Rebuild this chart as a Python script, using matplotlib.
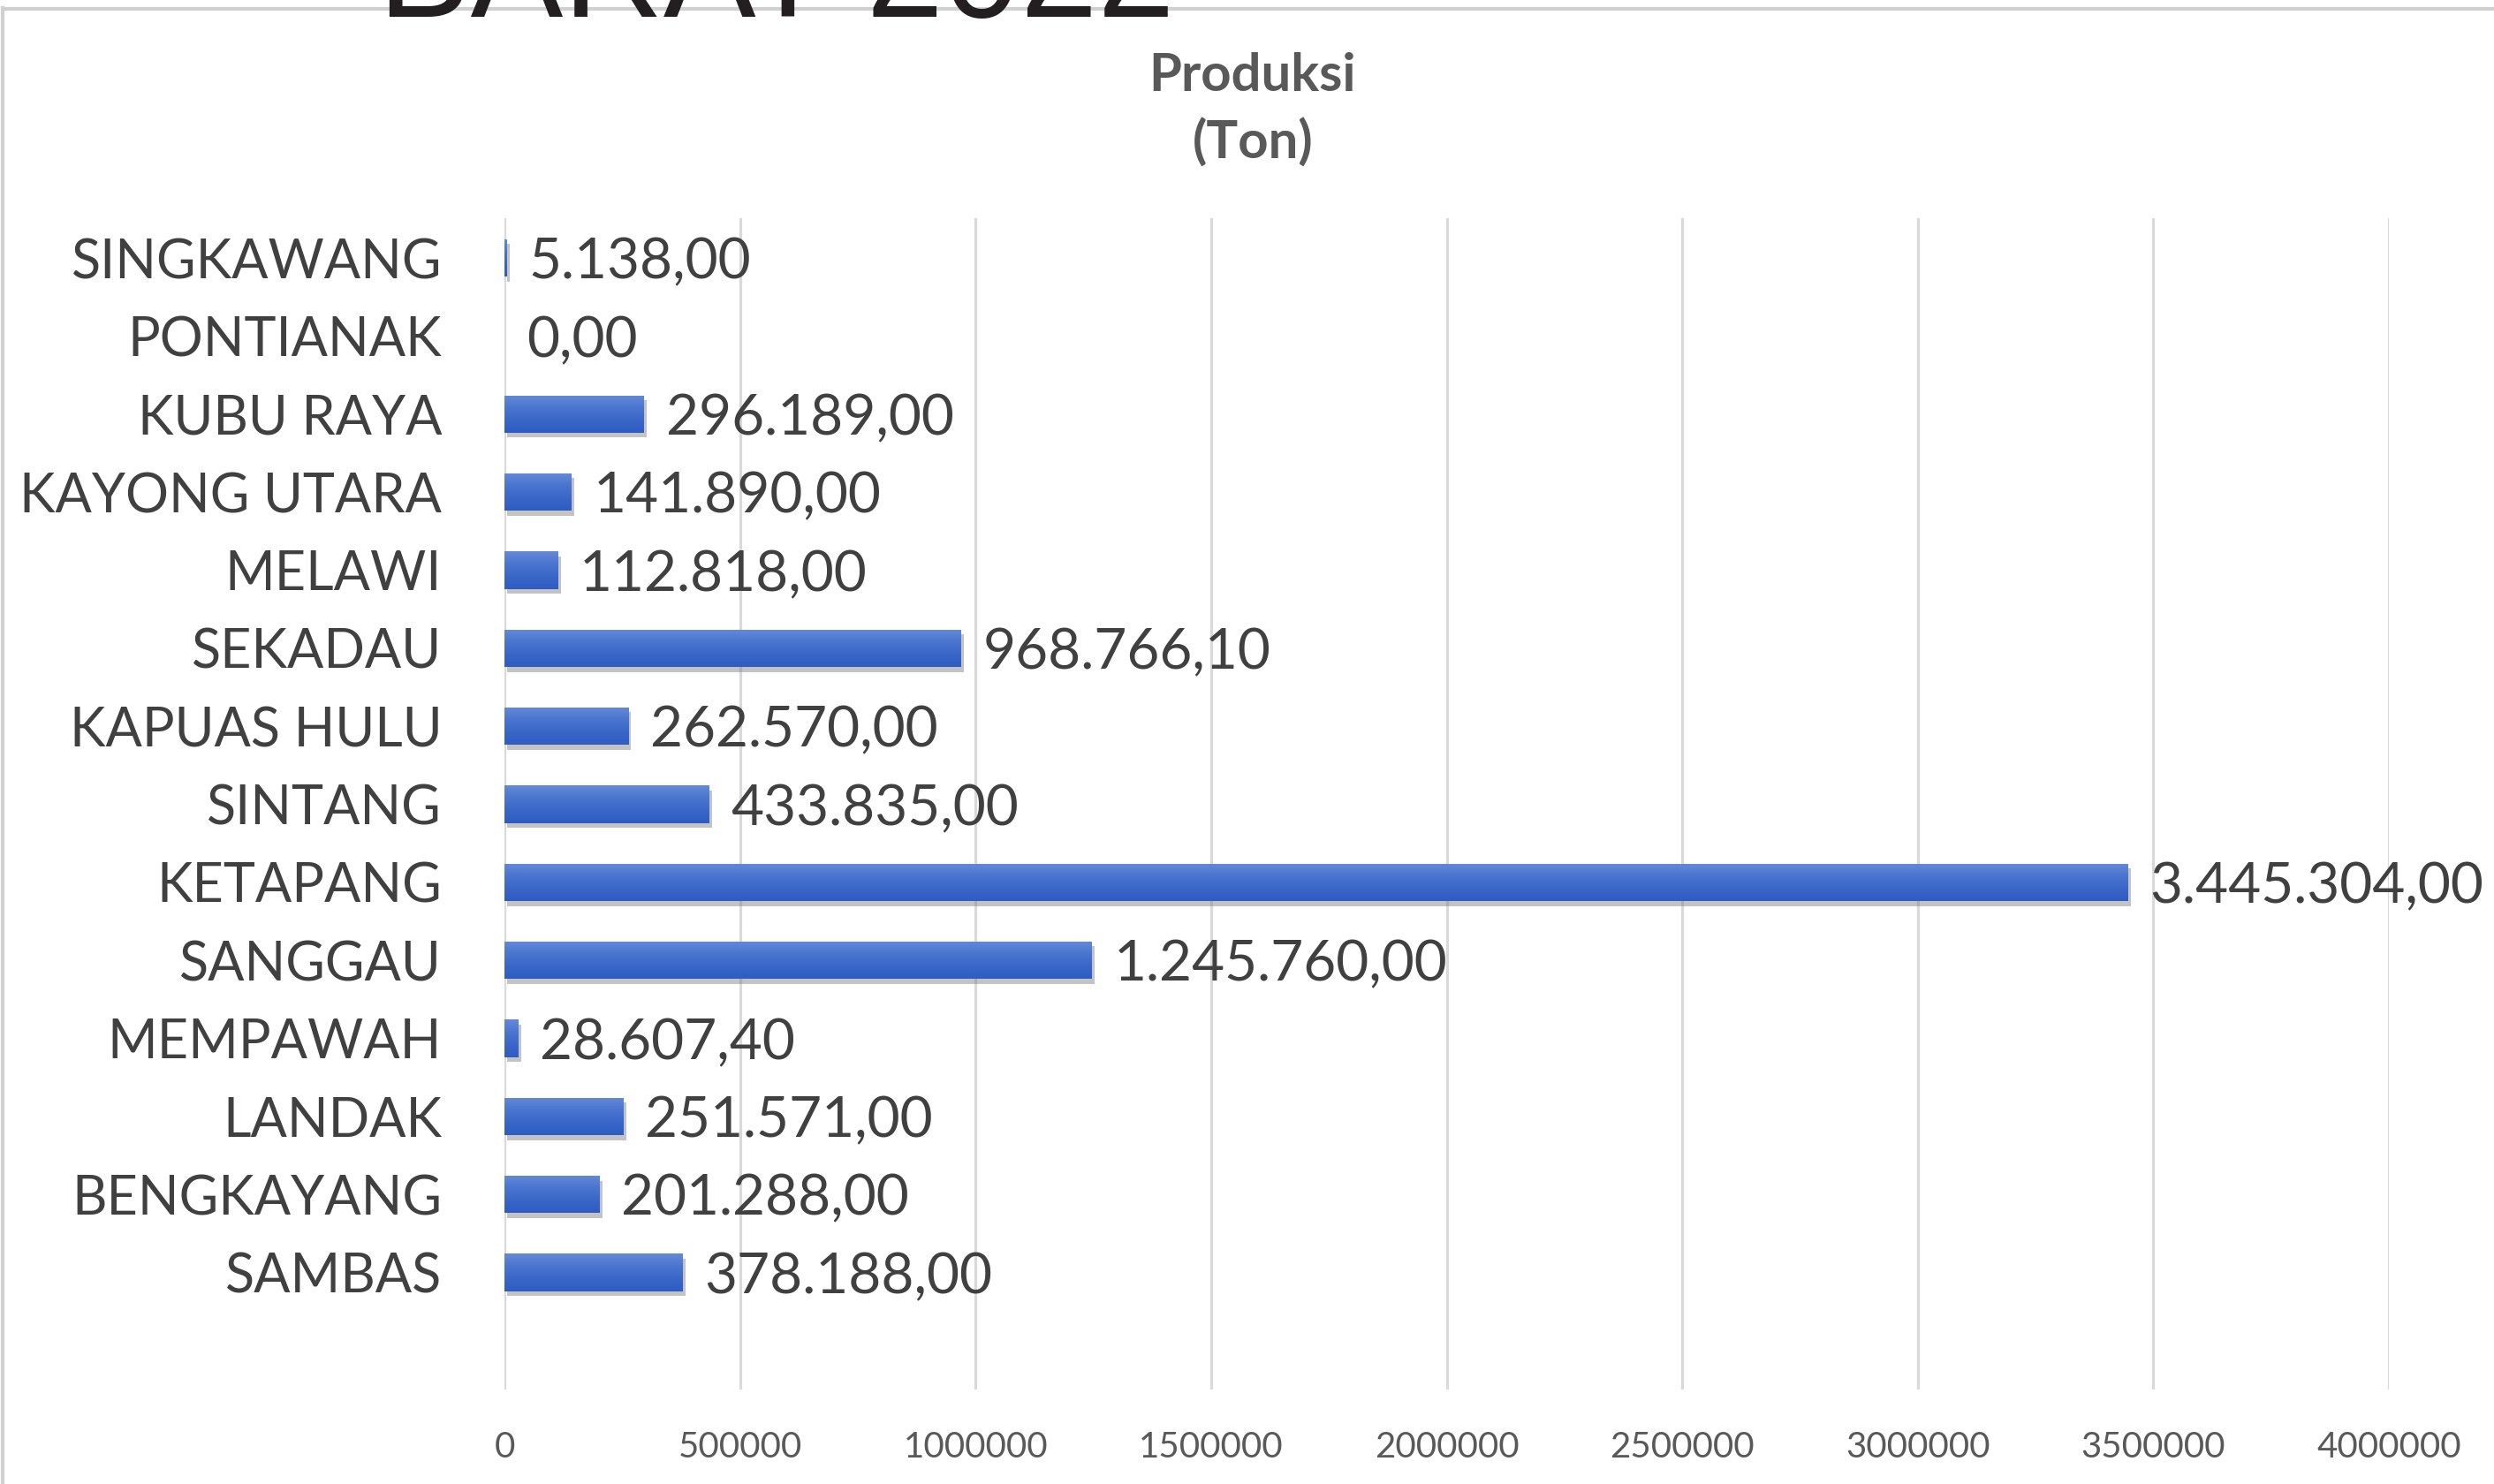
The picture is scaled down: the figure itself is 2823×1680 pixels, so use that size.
import matplotlib
matplotlib.use("Agg")
import numpy as np
import matplotlib.pyplot as plt
import matplotlib.patheffects as pe
from matplotlib.lines import Line2D
from matplotlib.colors import LinearSegmentedColormap

categories = ["SAMBAS", "BENGKAYANG", "LANDAK", "MEMPAWAH", "SANGGAU", "KETAPANG",
              "SINTANG", "KAPUAS HULU", "SEKADAU", "MELAWI", "KAYONG UTARA",
              "KUBU RAYA", "PONTIANAK", "SINGKAWANG"]
produksi = [378188.00, 201288.00, 251571.00, 28607.40, 1245760.00, 3445304.00,
            433835.00, 262570.00, 968766.10, 112818.00, 141890.00,
            296189.00, 0.00, 5138.00]
xticks = [0, 500000, 1000000, 1500000, 2000000, 2500000, 3000000, 3500000, 4000000]
page_title = "BARAT 2022"


def fmt_id(v):
    s = f"{v:,.2f}"
    return s.replace(",", "_").replace(".", ",").replace("_", ".")


W, H = 2823, 1680
DPI = 100
fig = plt.figure(figsize=(W / DPI, H / DPI), dpi=DPI)
fig.patch.set_facecolor("white")

ax = fig.add_axes([571 / W, 1 - 1573 / H, (2704 - 571) / W, (1573 - 247) / H])
ypos = list(range(len(categories)))
bar_h = 0.48
bars = ax.barh(ypos, produksi, height=bar_h, color="#3d69c9", zorder=3)
for b in bars:
    b.set_path_effects([pe.SimplePatchShadow(offset=(2.5, -4), shadow_rgbFace="#7a7a7a", alpha=0.45),
                        pe.Normal()])

cmap = LinearSegmentedColormap.from_list("barg", ["#2f5cc2", "#3a66c8", "#4a75cf", "#6489d8"])
grad = np.linspace(0, 1, 64).reshape(-1, 1)
for b in bars:
    w = b.get_width()
    if w <= 0:
        continue
    y0 = b.get_y()
    im = ax.imshow(grad, cmap=cmap, aspect="auto", origin="lower",
                   extent=(0, w, y0, y0 + b.get_height()), zorder=3.5,
                   interpolation="bilinear")
    im.set_clip_path(b)

for y, v in zip(ypos, produksi):
    ax.annotate(fmt_id(v), xy=(v, y), xytext=(18, 0), textcoords="offset points",
                ha="left", va="center_baseline", fontsize=46, color="#404040",
                family="Lato", zorder=4, annotation_clip=False)

ax.set_xlim(0, 4000000)
ax.set_ylim(-1.5, 13.51)
ax.set_yticks(ypos)
ax.set_yticklabels(categories, fontsize=44, color="#404040", family="Lato")
ax.set_xticks(xticks)
ax.set_xticklabels([str(t) for t in xticks], fontsize=29, color="#595959", family="Lato")
ax.tick_params(axis="y", length=0, pad=51)
ax.tick_params(axis="x", length=0, pad=34)
ax.grid(axis="x", color="#d9d9d9", linewidth=2.3, zorder=0)
ax.set_axisbelow(True)
for s in ax.spines.values():
    s.set_visible(False)

fig.text(1418 / W, 1 - 103 / H, "Produksi", ha="center", va="baseline", fontsize=43,
         fontweight="bold", color="#595959", family="Lato")
fig.text(1418 / W, 1 - 180 / H, "(Ton)", ha="center", va="baseline", fontsize=43,
         fontweight="bold", color="#595959", family="Lato")

# frame edges
fig.add_artist(Line2D([3 / W, 3 / W], [0, 1 - 9 / H], transform=fig.transFigure,
                      color="#d0d0d0", linewidth=3))
fig.add_artist(Line2D([3 / W, 1], [1 - 10 / H, 1 - 10 / H], transform=fig.transFigure,
                      color="#d0d0d0", linewidth=3))

fig.text(428 / W, 1 - 19 / H, page_title, ha="left", va="baseline", fontsize=113,
         color="#231f20", family="Liberation Sans", zorder=10)

fig.savefig("out.png", dpi=DPI, facecolor="white")
